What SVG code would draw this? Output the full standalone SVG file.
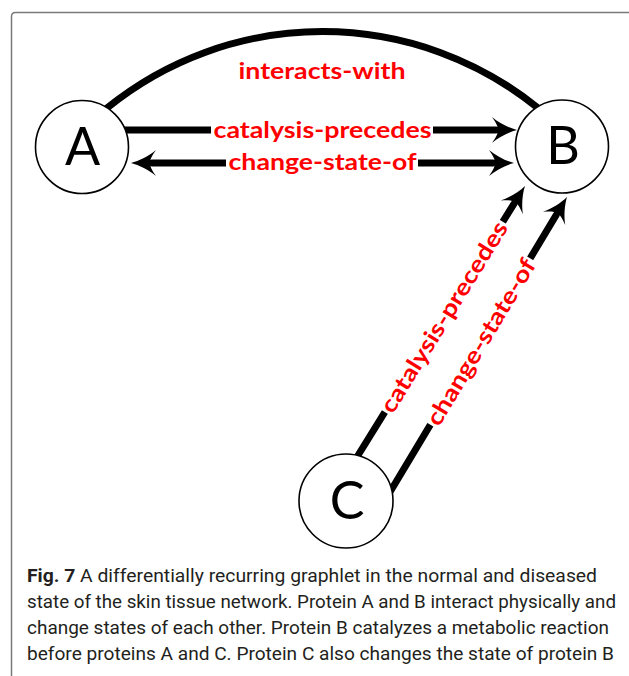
<svg xmlns="http://www.w3.org/2000/svg" width="629" height="676" viewBox="0 0 629 676">
  <style>
    .frame { fill: none; stroke: #7a7a7a; stroke-width: 1.5; }
    .node circle { fill: #ffffff; stroke: #000000; stroke-width: 1.6; }
    .node text { font-family: Lato, "Open Sans", "Liberation Sans", sans-serif; font-size: 52px; fill: #000000; text-anchor: middle; }
    .edge { fill: none; stroke: #000000; stroke-width: 7; stroke-linecap: round; }
    .lbl { font-family: Lato, "Open Sans", "Liberation Sans", sans-serif; font-weight: bold; font-size: 23px; fill: #ff0000; text-anchor: middle; }
    .lblbg { fill: #ffffff; }
    .cap { font-family: Roboto, "Open Sans", "Liberation Sans", sans-serif; font-size: 18px; fill: #231f20; }
  </style>
  <defs>
    <marker id="head" markerUnits="userSpaceOnUse" viewBox="-1 -14 27 28" refX="4" refY="0" markerWidth="27" markerHeight="28" orient="auto-start-reverse" overflow="visible">
      <path d="M25,0 C17,-2 7,-7 0,-13 C5,-6 6,-3 6,0 C6,3 5,6 0,13 C7,7 17,2 25,0 Z" fill="#000000"/>
    </marker>
  </defs>

  <!-- figure frame -->
  <path class="frame" d="M11.5,676 V16.5 Q11.5,12.5 15.5,12.5 H629"/>

  <!-- connectors -->
  <g id="edges">
    <path class="edge" d="M107,108 A342,342 0 0 1 538,108"/>
    <line class="edge" x1="123" y1="130" x2="496" y2="130" marker-end="url(#head)"/>
    <line class="edge" x1="152" y1="163" x2="493" y2="163" marker-start="url(#head)" marker-end="url(#head)" stroke-linecap="butt"/>
    <line class="edge" x1="357" y1="457" x2="513.9" y2="203.9" marker-end="url(#head)"/>
    <line class="edge" x1="390" y1="492" x2="556.2" y2="215" marker-end="url(#head)"/>

    <text class="lbl" x="322" y="79" textLength="167" lengthAdjust="spacingAndGlyphs">interacts-with</text>

    <rect class="lblbg" x="211" y="118" width="222" height="24"/>
    <text class="lbl" x="322.5" y="138" textLength="218" lengthAdjust="spacingAndGlyphs">catalysis-precedes</text>

    <rect class="lblbg" x="226" y="151" width="192" height="24"/>
    <text class="lbl" x="322.5" y="170" textLength="188" lengthAdjust="spacingAndGlyphs">change-state-of</text>

    <g transform="translate(444,317) rotate(-58.2)">
      <rect class="lblbg" x="-112" y="-12" width="224" height="24"/>
      <text class="lbl" x="0" y="8" textLength="220" lengthAdjust="spacingAndGlyphs">catalysis-precedes</text>
    </g>
    <g transform="translate(481,342) rotate(-59)">
      <rect class="lblbg" x="-97" y="-12" width="194" height="24"/>
      <text class="lbl" x="0" y="8" textLength="190" lengthAdjust="spacingAndGlyphs">change-state-of</text>
    </g>
  </g>

  <!-- nodes -->
  <g id="node-A" class="node">
    <circle cx="82" cy="147" r="46.5"/>
    <text x="82.5" y="165">A</text>
  </g>
  <g id="node-B" class="node">
    <circle cx="562" cy="146.5" r="46.5"/>
    <text x="563" y="164">B</text>
  </g>
  <g id="node-C" class="node">
    <circle cx="346" cy="501" r="47"/>
    <text x="347" y="519">C</text>
  </g>

  <!-- caption -->
  <g id="caption">
    <text class="cap" x="27" y="582" textLength="570" lengthAdjust="spacingAndGlyphs"><tspan font-weight="bold">Fig. 7</tspan> A differentially recurring graphlet in the normal and diseased</text>
    <text class="cap" x="27" y="608" textLength="589" lengthAdjust="spacingAndGlyphs">state of the skin tissue network. Protein A and B interact physically and</text>
    <text class="cap" x="27" y="634" textLength="582" lengthAdjust="spacingAndGlyphs">change states of each other. Protein B catalyzes a metabolic reaction</text>
    <text class="cap" x="27" y="660" textLength="587" lengthAdjust="spacingAndGlyphs">before proteins A and C. Protein C also changes the state of protein B</text>
  </g>
</svg>
